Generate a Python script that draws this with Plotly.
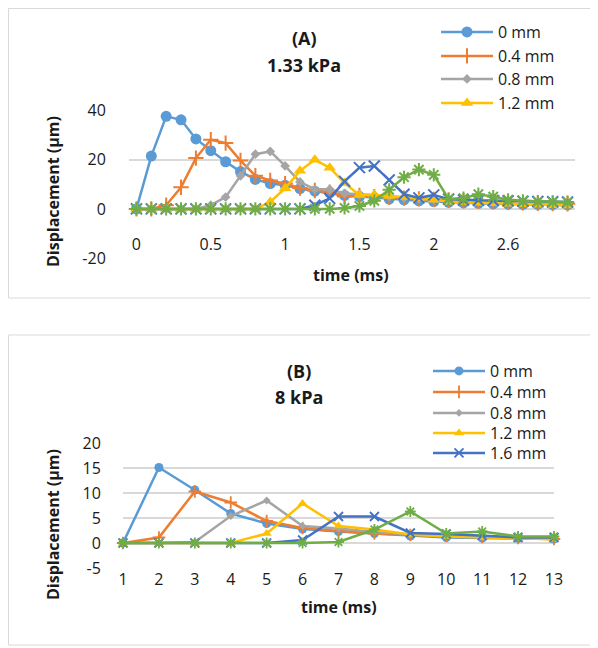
import plotly.graph_objects as go

# ---------------- data ----------------
series_names = ["0 mm", "0.4 mm", "0.8 mm", "1.2 mm", "1.6 mm", "2 mm"]

# Panel A (1.33 kPa) - time in ms (category axis)
times_a = [0, 0.1, 0.2, 0.3, 0.4, 0.5, 0.6, 0.7, 0.8, 0.9, 1, 1.1, 1.2, 1.3, 1.4,
           1.5, 1.6, 1.7, 1.8, 1.9, 2, 2.1, 2.2, 2.3, 2.4, 2.6, 2.7, 2.8, 2.9, 3]
tick_labels_a = ["0", "0.5", "1", "1.5", "2", "2.6"]
y_ticks_a = [-20, 0, 20, 40]

a_0mm = [0, 21.5, 37.7, 36.3, 28.5, 23.7, 19.2, 15.2, 12, 10.3, 9.6, 8.3, 7.2, 6.5, 5.5,
         5, 4.5, 4, 3.7, 3.3, 3, 2.7, 2.5, 2.3, 2.1, 2, 1.9, 1.8, 1.7, 1.6]
a_04mm = [0, 0, 1.5, 8.8, 20.7, 28.2, 26.8, 19.7, 13.5, 11.6, 10.3, 8.5, 7.5, 6.8, 5,
          5.5, 5, 4.7, 4.4, 4.1, 3.8, 3.5, 3.3, 3.1, 2.9, 2.7, 2.5, 2.3, 2.2, 2.1]
a_08mm = [0, 0, 0, 0, 0, 1.5, 4.8, 13.5, 22.3, 23.4, 17.5, 11, 8, 8, 6.3,
          6, 5.5, 5, 4.5, 4.2, 3.9, 3.6, 3.3, 3.1, 2.9, 2.7, 2.5, 2.4, 2.3, 2.2]
a_12mm = [0, 0, 0, 0, 0, 0, 0, 0, 0, 2.8, 8.4, 15.5, 20, 16.8, 10.5,
          5.7, 5.8, 5.3, 4.8, 4.2, 3.7, 2.9, 2.7, 2.5, 2.3, 2.1, 1.9, 1.7, 1.5, 1.4]
a_16mm = [0, 0, 0, 0, 0, 0, 0, 0, 0, 0, 0, 0, 1.5, 4.3, 11.2,
          16.8, 17.5, 11.8, 6, 4.5, 5.7, 4, 3.6, 3.5, 3.4, 3.3, 3.1, 3, 2.9, 2.8]
a_20mm = [0, 0, 0, 0, 0, 0, 0, 0, 0, 0, 0, 0, 0, 0, 0.4,
          1.2, 3.3, 7.8, 12.9, 16, 13.9, 4, 4.4, 6, 5, 3.7, 3.3, 3, 2.9, 2.8]

# Panel B (8 kPa)
times_b = [1, 2, 3, 4, 5, 6, 7, 8, 9, 10, 11, 12, 13]
y_ticks_b = [-5, 0, 5, 10, 15, 20]
b_0mm = [0, 15.1, 10.6, 5.9, 3.9, 2.8, 2.3, 1.9, 1.4, 1.1, 1, 0.9, 0.8]
b_04mm = [0, 1.1, 10.3, 8.1, 4.4, 3, 2.4, 1.9, 1.6, 1.4, 1.2, 1, 0.8]
b_08mm = [0, 0, 0.2, 5.4, 8.5, 3.4, 2.9, 2.2, 1.7, 1.5, 1.3, 1.1, 1]
b_12mm = [0, 0, 0, 0, 1.9, 7.9, 3.4, 2.7, 1.7, 1.3, 1.1, 1, 0.7]
b_16mm = [0, 0, 0, 0, 0, 0.6, 5.3, 5.3, 2, 1.8, 1.5, 1.1, 1.1]
b_20mm = [0, 0, 0, 0, 0, 0, 0.2, 2.7, 6.3, 1.9, 2.3, 1.3, 1.3]

# ---------------- styles ----------------
colors = ["#5B9BD5", "#ED7D31", "#A5A5A5", "#FFC000", "#4472C4", "#70AD47"]
symbols = ["circle", "cross-thin", "diamond", "triangle-up", "x-thin", "asterisk-open"]
sizes_a = [11, 11, 7.5, 11, 11, 11]
sizes_b = [9, 9, 6, 9, 9, 9]
FONT = "Open Sans"
TXT = "#1a1a1a"
W, H = 598, 648
OFF = 8  # page offset of the figure inside the browser window

# legend row centres (window px) for each panel
legend_rows_a = [32, 56, 79, 103]
legend_rows_b = [371, 392, 413, 433, 453]


def fx(px):
    return max(px - OFF, 0.5) / W


def fy(py):
    return 1 - max(py - OFF, 0.5) / H


def cat(t):
    return ("%g" % t)


def lab(v):
    return ("%g" % v)


fig = go.Figure()

a_data = [a_0mm, a_04mm, a_08mm, a_12mm, a_16mm, a_20mm]
b_data = [b_0mm, b_04mm, b_08mm, b_12mm, b_16mm, b_20mm]
xa = [cat(t) for t in times_a]

legend_layout = {}
leg_font = dict(family=FONT, size=16, color=TXT)
n_leg = 0


def new_legend(xpx, ypx):
    global n_leg
    n_leg += 1
    key = "legend" if n_leg == 1 else "legend%d" % n_leg
    legend_layout[key] = dict(x=fx(xpx), y=fy(ypx), xanchor="left", yanchor="middle",
                              bgcolor="rgba(0,0,0,0)", font=leg_font, itemwidth=52)
    return key


for i, (name, vals) in enumerate(zip(series_names, a_data)):
    thin = symbols[i] in ("cross-thin", "x-thin", "asterisk-open")
    show = i < len(legend_rows_a)
    kw = dict(legend=new_legend(436, legend_rows_a[i])) if show else {}
    fig.add_trace(go.Scatter(
        x=xa, y=vals, name=name, mode="lines+markers",
        xaxis="x", yaxis="y", showlegend=show, cliponaxis=False,
        line=dict(color=colors[i], width=2.5),
        marker=dict(symbol=symbols[i], size=sizes_a[i], color=colors[i],
                    line=dict(color=colors[i], width=2 if thin else 0)),
        **kw,
    ))

for i, (name, vals) in enumerate(zip(series_names, b_data)):
    thin = symbols[i] in ("cross-thin", "x-thin", "asterisk-open")
    show = i < len(legend_rows_b)
    kw = dict(legend=new_legend(428, legend_rows_b[i])) if show else {}
    fig.add_trace(go.Scatter(
        x=times_b, y=vals, name=name, mode="lines+markers",
        xaxis="x2", yaxis="y2", showlegend=show, cliponaxis=False,
        line=dict(color=colors[i], width=2.5),
        marker=dict(symbol=symbols[i], size=sizes_b[i], color=colors[i],
                    line=dict(color=colors[i], width=1.8 if thin else 0)),
        **kw,
    ))

tickfont = dict(family=FONT, size=16, color=TXT)

fig.update_layout(
    width=W, height=H,
    margin=dict(l=0, r=0, t=0, b=0, autoexpand=False),
    paper_bgcolor="white", plot_bgcolor="white",
    font=dict(family=FONT, color=TXT),
    xaxis=dict(domain=[fx(129), fx(575)], type="category", range=[-0.5, 29.5],
               anchor="free", position=fy(233), automargin=False,
               tickmode="array", tickvals=tick_labels_a, ticktext=tick_labels_a,
               showgrid=False, zeroline=False, showline=False, ticks="",
               tickfont=tickfont),
    yaxis=dict(domain=[fy(258), fy(110.7)], range=[-20, 40], automargin=False,
               tickmode="array", tickvals=y_ticks_a, ticktext=[lab(v) for v in y_ticks_a],
               anchor="x", gridcolor="#D9D9D9", gridwidth=1.5, zeroline=False,
               showline=False, ticks="outside", ticklen=19,
               tickcolor="rgba(0,0,0,0)", tickfont=tickfont),
    xaxis2=dict(domain=[fx(123), fx(554)], range=[1, 13], dtick=1, anchor="y2",
                automargin=False,
                showgrid=False, zeroline=False, showline=False, ticks="",
                tickfont=tickfont),
    yaxis2=dict(domain=[fy(568), fy(443)], range=[-5, 20], automargin=False,
                tickmode="array", tickvals=y_ticks_b, ticktext=[lab(v) for v in y_ticks_b],
                anchor="x2",
                gridcolor="#D9D9D9", gridwidth=1.5, zeroline=False,
                showline=False, ticks="outside", ticklen=18,
                tickcolor="rgba(0,0,0,0)", tickfont=tickfont),
    shapes=[
        dict(type="rect", xref="paper", yref="paper", x0=fx(5.5), x1=fx(594),
             y0=fy(298), y1=fy(3.5), line=dict(color="#D9D9D9", width=1),
             fillcolor="rgba(0,0,0,0)", layer="below"),
        dict(type="rect", xref="paper", yref="paper", x0=fx(5.5), x1=fx(593),
             y0=fy(645), y1=fy(335), line=dict(color="#D9D9D9", width=1),
             fillcolor="rgba(0,0,0,0)", layer="below"),
    ],
    **legend_layout,
)

titlefont = dict(family=FONT, size=18, color=TXT, weight="bold")
axfont = dict(family=FONT, size=16, color=TXT, weight="bold")
ann = [
    dict(text="(A)", x=fx(304), y=fy(38), font=titlefont),
    dict(text="1.33 kPa", x=fx(304), y=fy(65), font=titlefont),
    dict(text="(B)", x=fx(299), y=fy(371), font=titlefont),
    dict(text="8 kPa", x=fx(299), y=fy(397), font=titlefont),
    dict(text="time (ms)", x=fx(351), y=fy(275), font=axfont),
    dict(text="time (ms)", x=fx(339), y=fy(607), font=axfont),
    dict(text="Displacement (µm)", x=fx(53), y=fy(192), font=axfont, textangle=-90),
    dict(text="Displacement (µm)", x=fx(53), y=fy(525), font=axfont, textangle=-90),
]
for a in ann:
    a.update(xref="paper", yref="paper", showarrow=False,
             xanchor="center", yanchor="middle")
    fig.add_annotation(**a)

fig.write_html("out.html")
